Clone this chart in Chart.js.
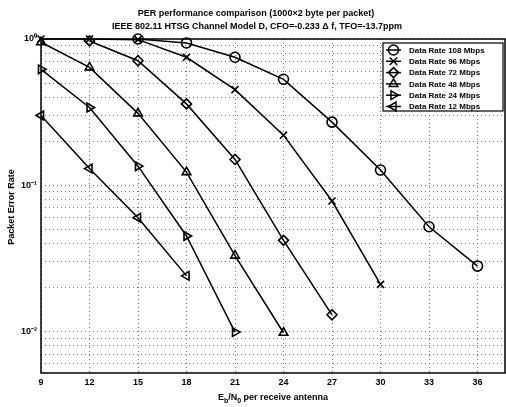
<!DOCTYPE html>
<html>
<head>
<meta charset="utf-8">
<script src="https://cdn.jsdelivr.net/npm/chart.js@4/dist/chart.umd.min.js"></script>
<style>
  html, body { margin: 0; padding: 0; background: #fff; }
  #wrap { width: 506px; height: 407px; position: relative; }
</style>
</head>
<body>
<div id="wrap"><canvas id="perChart" width="506" height="407"></canvas></div>
<script>
// tick values
const xTicks = [9, 12, 15, 18, 21, 24, 27, 30, 33, 36];
const yDecades = [0.01, 0.1, 1];
const yTickLabels = ['10\u207B\u00B2', '10\u207B\u00B9', '10\u2070'];

// series (Eb/N0 in dB, packet error rate)
const x108 = [15, 18, 21, 24, 27, 30, 33, 36];
const per108 = [1.0, 0.94, 0.75, 0.53, 0.27, 0.127, 0.052, 0.028];
const x96 = [9, 12, 15, 18, 21, 24, 27, 30];
const per96 = [1.0, 1.0, 0.99, 0.75, 0.45, 0.22, 0.078, 0.021];
const x72 = [12, 15, 18, 21, 24, 27];
const per72 = [0.97, 0.71, 0.36, 0.15, 0.042, 0.013];
const x48 = [9, 12, 15, 18, 21, 24];
const per48 = [0.95, 0.64, 0.31, 0.123, 0.033, 0.0098];
const x24 = [9, 12, 15, 18, 21];
const per24 = [0.62, 0.34, 0.135, 0.045, 0.0099];
const x12 = [9, 12, 15, 18];
const per12 = [0.30, 0.13, 0.06, 0.024];

const seriesLabels = ['Data Rate 108 Mbps', 'Data Rate 96 Mbps', 'Data Rate 72 Mbps',
                      'Data Rate 48 Mbps', 'Data Rate 24 Mbps', 'Data Rate 12 Mbps'];

const FONT = 'Liberation Sans, Arial, sans-serif';

function pts(xs, ys) {
    return xs.map((x, i) => ({ x: x, y: ys[i] }));
}

function makeSet(label, xs, ys, style, rot) {
    return {
        label: label,
        data: pts(xs, ys),
        borderColor: '#000',
        borderWidth: 1.5,
        pointStyle: style,
        rotation: rot,
        pointRadius: 5,
        pointBorderWidth: 1.6,
        pointBorderColor: '#000',
        pointBackgroundColor: 'rgba(0,0,0,0)',
        tension: 0,
        clip: false
    };
}

// draw a legend marker the same way as the data markers
function drawMarker(ctx, kind, x, y, r) {
    ctx.beginPath();
    if (kind === 'circle') {
        ctx.arc(x, y, r, 0, Math.PI * 2);
    } else if (kind === 'cross') {
        ctx.moveTo(x - r * 0.75, y - r * 0.75); ctx.lineTo(x + r * 0.75, y + r * 0.75);
        ctx.moveTo(x - r * 0.75, y + r * 0.75); ctx.lineTo(x + r * 0.75, y - r * 0.75);
    } else if (kind === 'diamond') {
        ctx.moveTo(x, y - r); ctx.lineTo(x + r, y); ctx.lineTo(x, y + r); ctx.lineTo(x - r, y); ctx.closePath();
    } else {
        const rot = { up: 0, right: 90, left: -90 }[kind] * Math.PI / 180;
        for (let k = 0; k < 3; k++) {
            const a = rot + k * 2 * Math.PI / 3;
            const px = x + r * Math.sin(a), py = y - r * Math.cos(a);
            if (k === 0) ctx.moveTo(px, py); else ctx.lineTo(px, py);
        }
        ctx.closePath();
    }
    ctx.stroke();
}

const decorations = {
    id: 'decorations',
    afterDraw(chart) {
        const ctx = chart.ctx;
        const a = chart.chartArea;
        ctx.save();
        ctx.fillStyle = '#000';
        ctx.strokeStyle = '#000';

        // box
        ctx.lineWidth = 1.5;
        ctx.strokeRect(a.left, a.top, a.right - a.left, a.bottom - a.top);

        // title
        ctx.font = 'bold 9px ' + FONT;
        ctx.textAlign = 'center';
        ctx.textBaseline = 'middle';
        ctx.fillText('PER performance comparison (1000\u00D72 byte per packet)', 256, 14);
        ctx.fillText('IEEE 802.11 HTSG Channel Model D, CFO=-0.233 \u0394 f, TFO=-13.7ppm', 257, 27);

        // y label
        ctx.save();
        ctx.translate(12, 207);
        ctx.rotate(-Math.PI / 2);
        ctx.fillText('Packet Error Rate', 0, 0);
        ctx.restore();

        // x label with subscripts
        const cx = (a.left + a.right) / 2, cy = 398;
        const parts = [['E', 9, 0], ['b', 7, 3], ['/N', 9, 0], ['0', 7, 3], [' per receive antenna', 9, 0]];
        let total = 0;
        parts.forEach(p => { ctx.font = 'bold ' + p[1] + 'px ' + FONT; total += ctx.measureText(p[0]).width; });
        let px = cx - total / 2;
        ctx.textAlign = 'left';
        parts.forEach(p => {
            ctx.font = 'bold ' + p[1] + 'px ' + FONT;
            ctx.fillText(p[0], px, cy + p[2]);
            px += ctx.measureText(p[0]).width;
        });

        // legend
        const lx = 383, ly = 43, lw = 120, lh = 68;
        ctx.fillStyle = '#fff';
        ctx.fillRect(lx, ly, lw, lh);
        ctx.lineWidth = 1.2;
        ctx.strokeRect(lx, ly, lw, lh);
        const kinds = ['circle', 'cross', 'diamond', 'up', 'right', 'left'];
        ctx.font = 'bold 8px ' + FONT;
        ctx.textAlign = 'left';
        ctx.fillStyle = '#000';
        seriesLabels.forEach((lab, i) => {
            const y = 50 + i * 11.3;
            ctx.lineWidth = 1.5;
            ctx.beginPath();
            ctx.moveTo(386, y); ctx.lineTo(401, y);
            ctx.stroke();
            drawMarker(ctx, kinds[i], 393.5, y, 5);
            ctx.fillText(lab, 409, y + 0.5);
        });
        ctx.restore();
    }
};

const ctx = document.getElementById('perChart').getContext('2d');
const perChart = new Chart(ctx, {
    type: 'line',
    data: {
        datasets: [
            makeSet(seriesLabels[0], x108, per108, 'circle', 0),
            makeSet(seriesLabels[1], x96, per96, 'crossRot', 0),
            makeSet(seriesLabels[2], x72, per72, 'rectRot', 0),
            makeSet(seriesLabels[3], x48, per48, 'triangle', 0),
            makeSet(seriesLabels[4], x24, per24, 'triangle', 90),
            makeSet(seriesLabels[5], x12, per12, 'triangle', -90)
        ]
    },
    options: {
        responsive: false,
        animation: false,
        layout: { autoPadding: false, padding: { top: 39, right: 1, left: 0, bottom: 0 } },
        plugins: {
            legend: { display: false },
            title: { display: false },
            tooltip: { enabled: false }
        },
        scales: {
            x: {
                type: 'linear',
                min: 9,
                max: 37.7,
                afterBuildTicks: (scale) => { scale.ticks = xTicks.map(v => ({ value: v })); },
                afterFit: (scale) => {
                    scale.height = 34;
                    scale.paddingLeft = 0;
                    scale.paddingRight = 0;
                },
                ticks: {
                    color: '#000',
                    padding: 4,
                    maxRotation: 0,
                    font: { family: FONT, size: 9, weight: 'bold' }
                },
                grid: { color: '#777', lineWidth: 1, drawTicks: false },
                border: { display: false, dash: [1, 3] }
            },
            y: {
                type: 'logarithmic',
                min: 0.0052,
                max: 1,
                afterBuildTicks: (scale) => {
                    const t = [];
                    [0.001, 0.01, 0.1].forEach(d => {
                        for (let k = 1; k <= 9; k++) {
                            const v = +(d * k).toPrecision(3);
                            if (v >= 0.0052 && v <= 1) t.push({ value: v });
                        }
                    });
                    t.push({ value: 1 });
                    scale.ticks = t;
                },
                afterFit: (scale) => {
                    scale.width = 41;
                    scale.paddingTop = 0;
                    scale.paddingBottom = 0;
                },
                ticks: {
                    color: '#000',
                    padding: 4,
                    autoSkip: false,
                    font: { family: FONT, size: 9, weight: 'bold' },
                    callback: (v) => {
                        const i = yDecades.findIndex(d => Math.abs(d - v) < d * 1e-6);
                        return i >= 0 ? yTickLabels[i] : '';
                    }
                },
                grid: { color: '#777', lineWidth: 1, drawTicks: false },
                border: { display: false, dash: [1, 3] }
            }
        }
    },
    plugins: [decorations]
});
</script>
</body>
</html>
